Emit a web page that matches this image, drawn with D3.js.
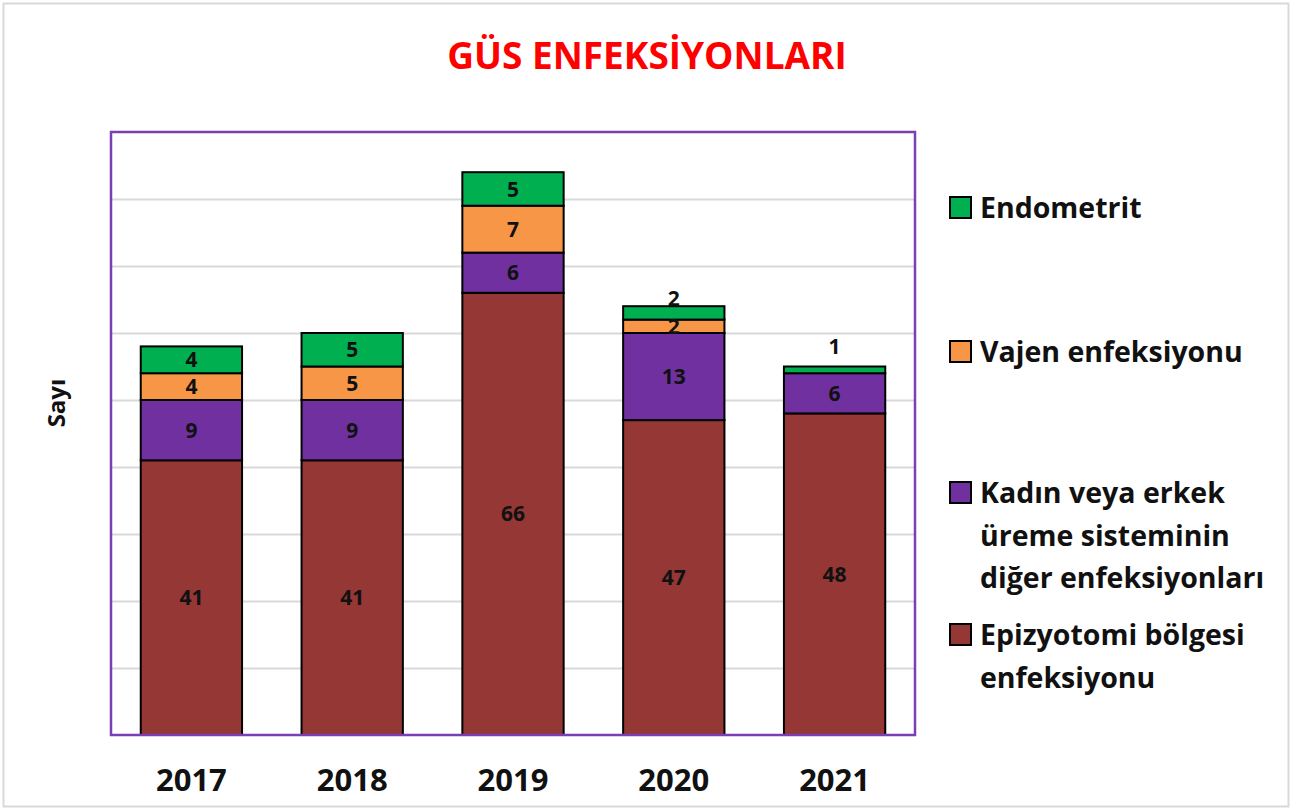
<!DOCTYPE html>
<html>
<head>
<meta charset="utf-8">
<script src="https://cdn.jsdelivr.net/npm/d3@7"></script>
<style>
  body { margin: 0; background: #fff; }
  text { font-family: "Open Sans", sans-serif; font-weight: bold; }
</style>
</head>
<body>
<svg id="chart" width="1301" height="810"></svg>
<script>
// data
const years = ["2017", "2018", "2019", "2020", "2021"];
const series = ["Epizyotomi bölgesi enfeksiyonu", "Kadın veya erkek üreme sisteminin diğer enfeksiyonları", "Vajen enfeksiyonu", "Endometrit"];
const epizyotomi = [41, 41, 66, 47, 48];
const digerEnf = [9, 9, 6, 13, 6];
const vajen = [4, 5, 7, 2, 0];
const endometrit = [4, 5, 5, 2, 1];
const yTicks = [0, 10, 20, 30, 40, 50, 60, 70, 80, 90];
const colors = ["#953735", "#7030A0", "#F79646", "#00B050"];
const legendLines = [
  ["Endometrit"],
  ["Vajen enfeksiyonu"],
  ["Kadın veya erkek", "üreme sisteminin", "diğer enfeksiyonları"],
  ["Epizyotomi bölgesi", "enfeksiyonu"]
];

const svg = d3.select("#chart");

// outer frame
svg.append("rect")
  .attr("x", 3.5).attr("y", 3.5)
  .attr("width", 1285).attr("height", 803)
  .attr("fill", "#fff")
  .attr("stroke", "#d9d9d9")
  .attr("stroke-width", 2);

// title
svg.append("text")
  .attr("x", 647).attr("y", 69)
  .attr("text-anchor", "middle")
  .attr("fill", "#FF0000")
  .attr("font-size", 37)
  .text("GÜS ENFEKSİYONLARI");

const plotL = 111, plotR = 915, plotT = 132, plotB = 735;

const x = d3.scaleBand().domain(years).range([plotL, plotR]).paddingInner(0.37).paddingOuter(0.185);
const y = d3.scaleLinear().domain([0, 90]).range([plotB, plotT]);

// gridlines
svg.append("g")
  .attr("transform", `translate(${plotL},0)`)
  .call(d3.axisLeft(y).tickValues(yTicks.slice(1, -1)).tickSize(-(plotR - plotL)).tickFormat(""))
  .call(g => g.select(".domain").remove())
  .call(g => g.selectAll("line").attr("stroke", "#d9d9d9").attr("stroke-width", 2));

// stack
const table = years.map((yr, i) => ({
  year: yr, s0: epizyotomi[i], s1: digerEnf[i], s2: vajen[i], s3: endometrit[i]
}));
const keys = ["s0", "s1", "s2", "s3"];
const stacked = d3.stack().keys(keys)(table);

const layers = svg.selectAll(".layer")
  .data(stacked)
  .enter()
  .append("g")
  .attr("class", "layer")
  .attr("fill", (d, i) => colors[i]);

layers.selectAll("rect")
  .data(d => d)
  .enter()
  .append("rect")
  .attr("x", d => x(d.data.year))
  .attr("width", x.bandwidth())
  .attr("y", d => y(d[1]))
  .attr("height", d => y(d[0]) - y(d[1]))
  .attr("stroke", "#000")
  .attr("stroke-width", 2);

// labels
stacked.forEach((layer, li) => {
  layer.forEach(d => {
    const v = d[1] - d[0];
    if (v === 0) return;
    let cy = (y(d[0]) + y(d[1])) / 2;
    // small top segments: label pushed above the bar
    if (li === keys.length - 1 && v <= 2) cy -= 14 + (v < 2 ? 9 : 0);
    svg.append("text")
      .attr("x", x(d.data.year) + x.bandwidth() / 2)
      .attr("y", cy)
      .attr("dy", "0.36em")
      .attr("text-anchor", "middle")
      .attr("font-size", 21)
      .attr("fill", "#111")
      .text(v);
  });
});

// plot border
svg.append("rect")
  .attr("x", plotL).attr("y", plotT)
  .attr("width", plotR - plotL).attr("height", plotB - plotT)
  .attr("fill", "none")
  .attr("stroke", "#7B3FB5")
  .attr("stroke-width", 2.5);

// x axis labels
svg.append("g")
  .attr("transform", `translate(0,${plotB})`)
  .call(d3.axisBottom(x).tickSize(0).tickPadding(0))
  .call(g => g.select(".domain").remove())
  .call(g => g.selectAll("text")
    .attr("y", 56)
    .attr("dy", 0)
    .attr("fill", "#111")
    .attr("font-size", 31)
    .attr("font-family", "Open Sans, sans-serif")
    .attr("font-weight", "bold"));

// y axis title
svg.append("text")
  .attr("transform", "translate(65,403) rotate(-90)")
  .attr("text-anchor", "middle")
  .attr("font-size", 24)
  .attr("fill", "#111")
  .text("Sayı");

// legend
const legendY = [208, 352, 493, 635];
const legend = svg.append("g");
legendLines.forEach((lines, i) => {
  const ci = series.length - 1 - i;
  legend.append("rect")
    .attr("x", 950).attr("y", legendY[i] - 11)
    .attr("width", 21).attr("height", 21)
    .attr("fill", colors[ci])
    .attr("stroke", "#000")
    .attr("stroke-width", 2);
  const t = legend.append("text")
    .attr("x", 980)
    .attr("y", legendY[i])
    .attr("font-size", 28.5)
    .attr("fill", "#111");
  lines.forEach((ln, j) => {
    t.append("tspan").attr("x", 980).attr("dy", j === 0 ? "0.36em" : 42.5).text(ln);
  });
});
</script>
</body>
</html>
